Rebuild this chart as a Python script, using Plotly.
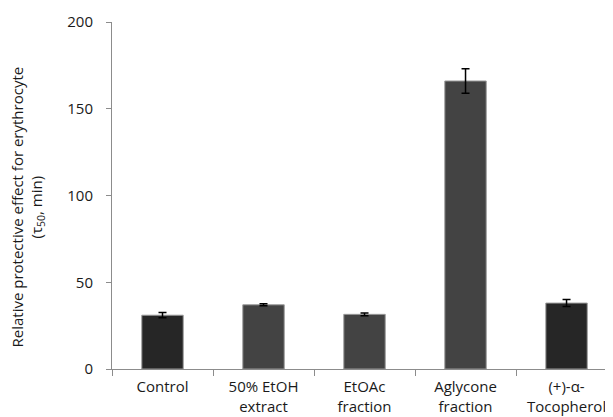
import plotly.graph_objects as go

categories = ["Control", "50% EtOH<br>extract", "EtOAc<br>fraction", "Aglycone<br>fraction", "(+)-α-<br>Tocopherol"]
values = [31, 37, 31.5, 166, 38]
errors = [1.5, 0.6, 0.8, 7, 2]
bar_colors = ["#262626", "#434343", "#434343", "#434343", "#262626"]
y_title = "Relative protective effect for erythrocyte<br>(τ<sub>50</sub>, min)"

fig = go.Figure()
fig.add_trace(go.Bar(
    x=categories, y=values,
    marker=dict(color=bar_colors, line=dict(color="#9a9a9a", width=1)),
    width=0.41,
    error_y=dict(type="data", array=errors, color="black", thickness=1.5, width=4),
))

font = dict(family="Open Sans, Liberation Sans, sans-serif", size=15, color="#1a1a1a")
fig.update_layout(
    width=613, height=417,
    margin=dict(l=104, r=8, t=14, b=56, autoexpand=False),
    paper_bgcolor="white", plot_bgcolor="white",
    showlegend=False,
    font=font,
    xaxis=dict(
        range=[-0.5, 4.46], automargin=False,
        showline=True, linecolor="#8c8c8c", linewidth=1,
        ticks="outside", tickson="boundaries", ticklen=6, tickcolor="#8c8c8c",
        showgrid=False, tickfont=dict(size=15), ticklabelstandoff=4,
    ),
    yaxis=dict(
        range=[0, 200], tickvals=[0, 50, 100, 150, 200], automargin=False,
        showline=True, linecolor="#8c8c8c", linewidth=1,
        ticks="outside", ticklen=5, tickcolor="#8c8c8c",
        showgrid=False, zeroline=False, tickfont=dict(size=15), ticklabelstandoff=10,
    ),
    annotations=[dict(
        text=y_title, textangle=-90, showarrow=False,
        xref="paper", yref="paper", x=0, y=0.5, xanchor="center", yanchor="middle",
        xshift=-85, yshift=-12, font=dict(size=15),
    )],
)

fig.write_html("out.html")
